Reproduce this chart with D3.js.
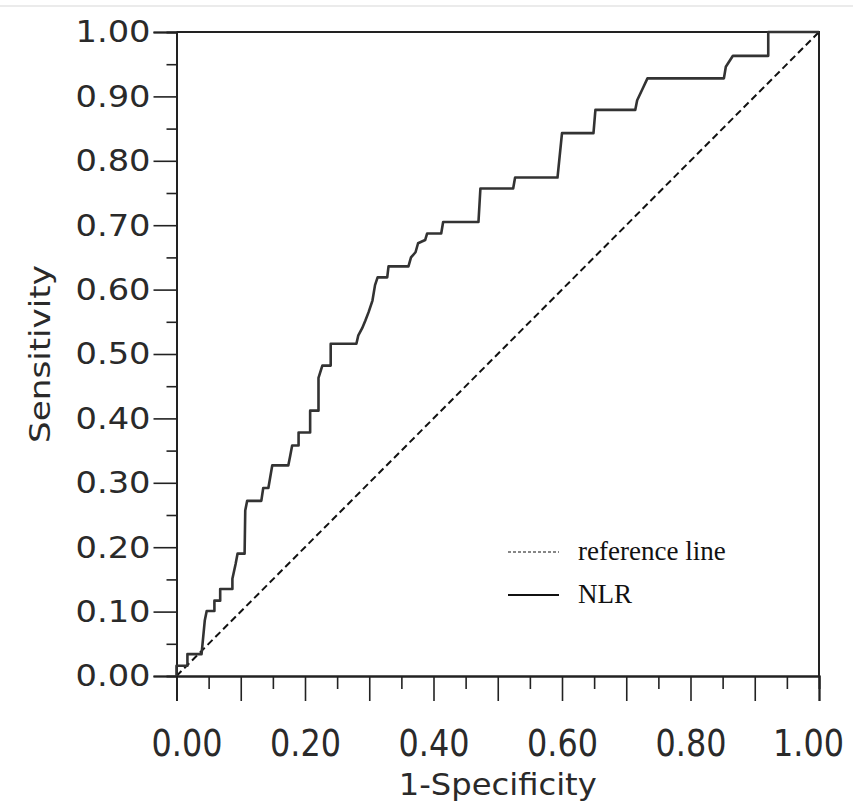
<!DOCTYPE html>
<html>
<head>
<meta charset="utf-8">
<title>ROC curve</title>
<style>
  body { margin: 0; background: #fff; }
  svg { display: block; }
</style>
</head>
<body>
<div id="chart"></div>
<script src="https://d3js.org/d3.v7.min.js"></script>
<script>
// ROC curve for NLR, vertices of the staircase
var fpr = [0, 0, 0.017, 0.017, 0.039, 0.044, 0.047, 0.059, 0.059, 0.068, 0.068, 0.087, 0.087, 0.092, 0.095,
  0.106, 0.107, 0.110, 0.132, 0.135, 0.143, 0.149, 0.174, 0.177, 0.180, 0.190, 0.190, 0.208, 0.208, 0.221,
  0.221, 0.227, 0.240, 0.240, 0.280, 0.283, 0.289, 0.294, 0.299, 0.305, 0.309, 0.313, 0.328, 0.330, 0.361,
  0.365, 0.372, 0.376, 0.387, 0.390, 0.412, 0.415, 0.470, 0.473, 0.524, 0.527, 0.593, 0.600, 0.649, 0.652,
  0.714, 0.717, 0.726, 0.733, 0.852, 0.855, 0.866, 0.921, 0.921, 1];
var tpr = [0, 0.016, 0.016, 0.034, 0.034, 0.086, 0.101, 0.101, 0.117, 0.117, 0.135, 0.135, 0.151, 0.174, 0.190,
  0.190, 0.257, 0.272, 0.272, 0.292, 0.292, 0.327, 0.327, 0.342, 0.358, 0.358, 0.378, 0.378, 0.412, 0.412,
  0.463, 0.482, 0.482, 0.516, 0.516, 0.529, 0.540, 0.552, 0.565, 0.583, 0.607, 0.619, 0.619, 0.636, 0.636,
  0.650, 0.658, 0.672, 0.677, 0.687, 0.687, 0.705, 0.705, 0.757, 0.757, 0.774, 0.774, 0.843, 0.843, 0.879,
  0.879, 0.894, 0.913, 0.928, 0.928, 0.946, 0.963, 0.963, 1.0, 1];
var refLine = [0, 1];

var xMajor = [0, 0.1, 0.2, 0.3, 0.4, 0.5, 0.6, 0.7, 0.8, 0.9, 1.0];
var xLabelled = ["0.00", "", "0.20", "", "0.40", "", "0.60", "", "0.80", "", "1.00"];
var yMajor = [0, 0.1, 0.2, 0.3, 0.4, 0.5, 0.6, 0.7, 0.8, 0.9, 1.0];
var minorTicks = [0.05, 0.15, 0.25, 0.35, 0.45, 0.55, 0.65, 0.75, 0.85, 0.95];
var legendItems = ["reference line", "NLR"];

var W = 853, H = 805;
var svg = d3.select("#chart").append("svg").attr("width", W).attr("height", H);

var x = d3.scaleLinear().domain([0, 1]).range([176.5, 819]);
var y = d3.scaleLinear().domain([0, 1]).range([676, 32]);

// faint line along the top of the picture
svg.append("line").attr("x1", 0).attr("x2", W).attr("y1", 6).attr("y2", 6)
  .attr("stroke", "#e4e4e4").attr("stroke-width", 1.5);

// frame (top and right)
svg.append("path")
  .attr("d", "M" + x(0) + "," + y(1) + "H" + x(1) + "V" + y(0))
  .attr("fill", "none").attr("stroke", "#222").attr("stroke-width", 2);

// axes
var gy = svg.append("g").attr("transform", "translate(" + x(0) + ",0)")
  .call(d3.axisLeft(y).tickValues(yMajor).tickSize(23).tickPadding(3).tickFormat(d3.format(".2f")));
var gyMinor = svg.append("g").attr("transform", "translate(" + x(0) + ",0)")
  .call(d3.axisLeft(y).tickValues(minorTicks).tickSize(10).tickFormat(""));
var gx = svg.append("g").attr("transform", "translate(0," + y(0) + ")")
  .call(d3.axisBottom(x).tickValues(xMajor).tickSize(25)
    .tickFormat(function(d, i) { return xLabelled[i]; }));
var gxMinor = svg.append("g").attr("transform", "translate(0," + y(0) + ")")
  .call(d3.axisBottom(x).tickValues(minorTicks).tickSize(13).tickFormat(""));

[gy, gyMinor, gx, gxMinor].forEach(function(g) {
  g.select(".domain").attr("stroke", "#222").attr("stroke-width", 2);
  g.selectAll(".tick line").attr("stroke", "#222").attr("stroke-width", 1.6);
});

gy.selectAll("text")
  .attr("font-family", "DejaVu Sans, Verdana, sans-serif")
  .attr("font-size", 31)
  .attr("fill", "#2a2a2a")
  .attr("x", -26)
  .attr("textLength", 75)
  .attr("lengthAdjust", "spacingAndGlyphs");

gx.selectAll("text")
  .attr("font-family", "DejaVu Sans, Verdana, sans-serif")
  .attr("font-size", 37)
  .attr("fill", "#2a2a2a")
  .attr("y", 80)
  .attr("dy", 0)
  .attr("textLength", function(d, i) { return xLabelled[i] ? 71 : null; })
  .attr("lengthAdjust", "spacingAndGlyphs")
  .attr("dx", function(d) { return d === 0 ? 10 : (d === 1 ? -11 : 0); });

// axis titles
svg.append("text")
  .attr("x", (x(0) + x(1)) / 2).attr("y", 795)
  .attr("text-anchor", "middle")
  .attr("font-family", "DejaVu Sans, Verdana, sans-serif")
  .attr("font-size", 31).attr("fill", "#2a2a2a")
  .attr("textLength", 198).attr("lengthAdjust", "spacingAndGlyphs")
  .text("1-Specificity");

svg.append("text")
  .attr("transform", "translate(50," + ((y(0) + y(1)) / 2) + ") rotate(-90)")
  .attr("text-anchor", "middle")
  .attr("font-family", "DejaVu Sans, Verdana, sans-serif")
  .attr("font-size", 29).attr("fill", "#2a2a2a")
  .attr("textLength", 178).attr("lengthAdjust", "spacingAndGlyphs")
  .text("Sensitivity");

// diagonal reference line
svg.append("line")
  .attr("x1", x(refLine[0])).attr("y1", y(refLine[0]))
  .attr("x2", x(refLine[1])).attr("y2", y(refLine[1]))
  .attr("stroke", "#111").attr("stroke-width", 2)
  .attr("stroke-dasharray", "7,4");

// ROC curve
var pts = fpr.map(function(d, i) { return [d, tpr[i]]; });
var line = d3.line().x(function(d) { return x(d[0]); }).y(function(d) { return y(d[1]); });
svg.append("path")
  .datum(pts)
  .attr("d", line)
  .attr("fill", "none")
  .attr("stroke", "#333")
  .attr("stroke-width", 2.6)
  .attr("stroke-linejoin", "round");

// legend
var leg = svg.append("g");
legendItems.forEach(function(name, i) {
  var ly = 552 + i * 43;
  leg.append("line")
    .attr("x1", 508).attr("x2", 559).attr("y1", ly).attr("y2", ly)
    .attr("stroke", "#111")
    .attr("stroke-width", i === 0 ? 1.2 : 1.8)
    .attr("stroke-dasharray", i === 0 ? "3,2" : null);
  leg.append("text")
    .attr("x", 578).attr("y", ly + 8)
    .attr("font-family", "Liberation Serif, Times New Roman, serif")
    .attr("font-size", 27).attr("fill", "#111")
    .text(name);
});
</script>
</body>
</html>
